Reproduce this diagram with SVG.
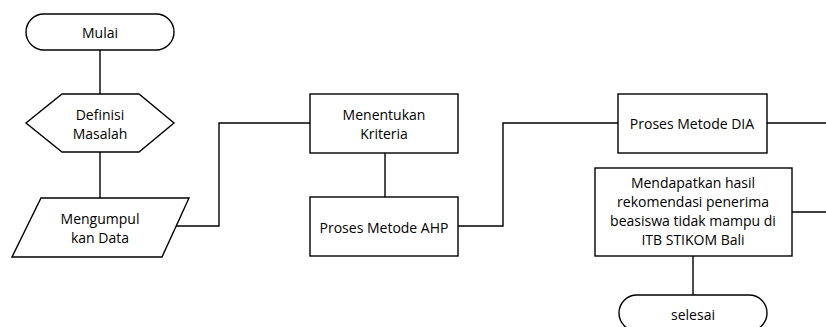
<svg xmlns="http://www.w3.org/2000/svg" width="826" height="327" viewBox="0 0 826 327">
  <style>
    .shape { fill: #ffffff; stroke: #000000; stroke-width: 1.4; }
    .link { fill: none; stroke: #000000; stroke-width: 1.4; }
    text { font-family: "Open Sans", "Noto Sans", sans-serif; font-size: 14px; fill: #000000; text-anchor: middle; dominant-baseline: central; }
  </style>
  <rect width="826" height="327" fill="#ffffff"/>

  <!-- connectors -->
  <g id="connectors">
    <line class="link" x1="100" y1="50" x2="100" y2="94"/>
    <line class="link" x1="100" y1="152" x2="100" y2="198"/>
    <polyline class="link" points="175,226 219,226 219,123 310,123"/>
    <line class="link" x1="385" y1="153" x2="385" y2="197"/>
    <polyline class="link" points="458,226 503,226 503,123 618,123"/>
    <line class="link" x1="767" y1="123" x2="826" y2="123"/>
    <line class="link" x1="792" y1="212" x2="826" y2="212"/>
    <line class="link" x1="693" y1="256" x2="693" y2="295"/>
  </g>

  <g id="mulai">
    <rect class="shape" x="26" y="14" width="148" height="36" rx="18" ry="18"/>
    <text x="100" y="32">Mulai</text>
  </g>

  <g id="definisi-masalah">
    <polygon class="shape" points="62,94 139,94 174,123 139,152 62,152 26,123"/>
    <text x="100" y="114">Definisi</text>
    <text x="100" y="133">Masalah</text>
  </g>

  <g id="mengumpulkan-data">
    <polygon class="shape" points="41,198 189,198 162,257 12,257"/>
    <text x="100" y="218">Mengumpul</text>
    <text x="100" y="237">kan Data</text>
  </g>

  <g id="menentukan-kriteria">
    <rect class="shape" x="310" y="94" width="148" height="59"/>
    <text x="384" y="114">Menentukan</text>
    <text x="384" y="133">Kriteria</text>
  </g>

  <g id="proses-ahp">
    <rect class="shape" x="310" y="197" width="148" height="59"/>
    <text x="384" y="227">Proses Metode AHP</text>
  </g>

  <g id="proses-dia">
    <rect class="shape" x="618" y="94" width="149" height="59"/>
    <text x="692" y="123">Proses Metode DIA</text>
  </g>

  <g id="hasil-rekomendasi">
    <rect class="shape" x="595" y="168" width="197" height="88"/>
    <text x="693" y="182">Mendapatkan hasil</text>
    <text x="693" y="201">rekomendasi penerima</text>
    <text x="693" y="220">beasiswa tidak mampu di</text>
    <text x="693" y="239">ITB STIKOM Bali</text>
  </g>

  <g id="selesai">
    <rect class="shape" x="619" y="295" width="148" height="36" rx="18" ry="18"/>
    <text x="693" y="314">selesai</text>
  </g>
</svg>
